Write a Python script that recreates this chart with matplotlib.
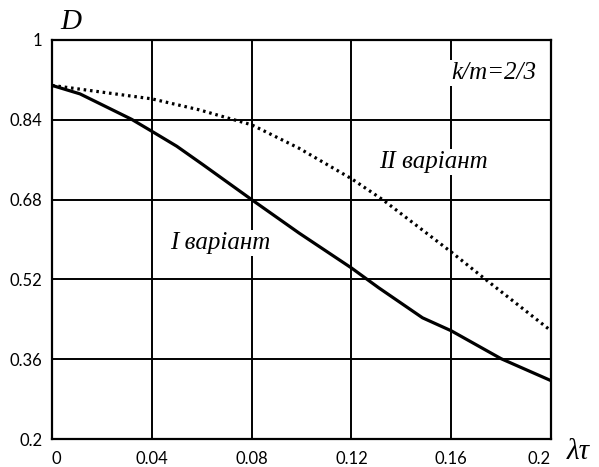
import matplotlib
matplotlib.use("Agg")
import matplotlib.pyplot as plt

# I варіант (solid)
x1 = [0, 0.0112, 0.0319, 0.04, 0.05, 0.0605, 0.08, 0.099, 0.12, 0.131, 0.1485, 0.16, 0.18, 0.2]
d1 = [0.909, 0.892, 0.841, 0.817, 0.787, 0.75, 0.68, 0.613, 0.543, 0.503, 0.443, 0.417, 0.361, 0.317]

# II варіант (dotted)
x2 = [0, 0.04, 0.059, 0.08, 0.099, 0.12, 0.1325, 0.16, 0.1725, 0.2]
d2 = [0.909, 0.882, 0.86, 0.83, 0.783, 0.722, 0.68, 0.575, 0.525, 0.417]

xticks = [0, 0.04, 0.08, 0.12, 0.16, 0.2]
xlabels = ["0", "0.04", "0.08", "0.12", "0.16", "0.2"]
yticks = [0.2, 0.36, 0.52, 0.68, 0.84, 1.0]
ylabels = ["0.2", "0.36", "0.52", "0.68", "0.84", "1"]

serif = "Liberation Serif"

fig = plt.figure(figsize=(5.99, 4.67), dpi=100)
ax = fig.add_axes([52 / 599, 1 - 439 / 467, 499 / 599, 399 / 467])

ax.plot(x1, d1, color="black", lw=2.3, zorder=3)
ax.plot(x2, d2, color="black", lw=2.3, linestyle=(0, (0.8, 1.2)), zorder=3)

ax.set_xlim(0, 0.2)
ax.set_ylim(0.2, 1.0)
ax.set_xticks(xticks)
ax.set_xticklabels(xlabels, fontfamily="Lato", fontsize=12)
ax.set_yticks(yticks)
ax.set_yticklabels(ylabels, fontfamily="Lato", fontsize=12)
ax.tick_params(axis="x", length=0, pad=9)
ax.tick_params(axis="y", length=0, pad=7)
xt = ax.get_xticklabels()
xt[0].set_horizontalalignment("left")
xt[0].set_x(0.002)
xt[-1].set_horizontalalignment("right")
ax.grid(True, color="black", lw=1.4)
for s in ax.spines.values():
    s.set_linewidth(1.6)

box = dict(facecolor="white", edgecolor="none", pad=1.5)
ax.text(0.0676, 0.592, "I варіант", fontfamily=serif, style="italic", fontsize=18,
        ha="center", va="center", bbox=box, zorder=2)
ax.text(0.153, 0.756, "II варіант", fontfamily=serif, style="italic", fontsize=18,
        ha="center", va="center", bbox=box, zorder=2)
ax.text(0.177, 0.934, "k/m=2/3", fontfamily=serif, style="italic", fontsize=18,
        ha="center", va="center", bbox=box, zorder=2)

fig.text(71 / 599, 1 - 22 / 467, "D", fontfamily=serif, style="italic", fontsize=21,
         ha="center", va="center")
fig.text(578 / 599, 1 - 452 / 467, "λτ", fontfamily=serif, style="italic", fontsize=21,
         ha="center", va="center")

fig.savefig("out.png", dpi=100)
